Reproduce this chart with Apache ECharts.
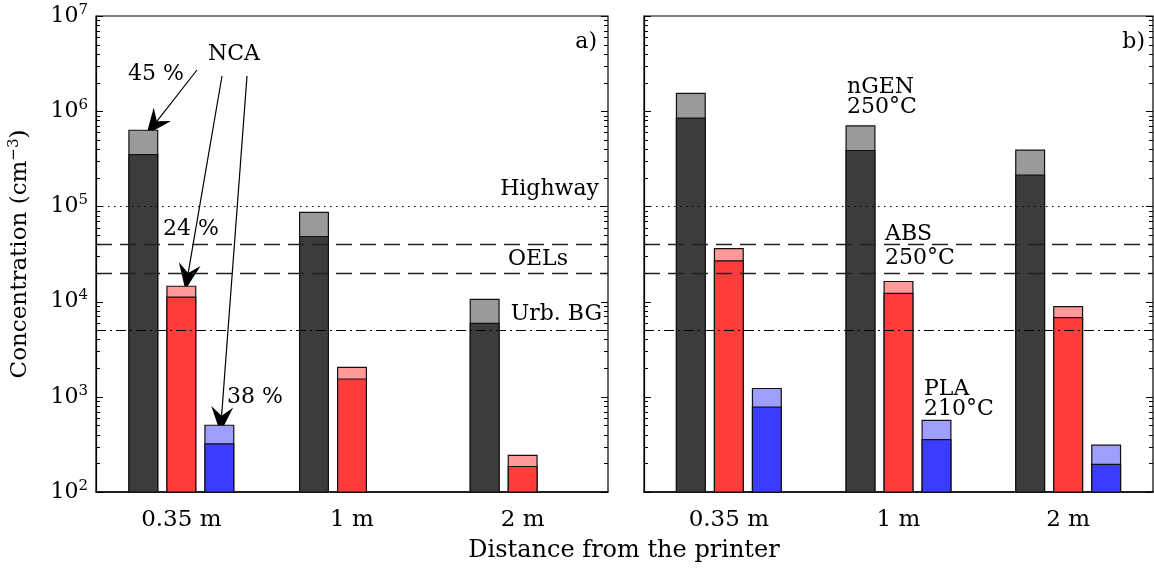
<!DOCTYPE html>
<html>
<head>
<meta charset="utf-8">
<script src="https://cdn.jsdelivr.net/npm/echarts@6/dist/echarts.min.js"></script>
<style>
  html, body { margin: 0; padding: 0; background: #fff; }
  #chart { width: 1154px; height: 571px; }
</style>
</head>
<body>
<div id="chart"></div>
<script>
// categories and decade ticks
var categories = ["0.35 m", "1 m", "2 m"];
var decades = [1e2, 1e3, 1e4, 1e5, 1e6, 1e7];

// panel a) totals (incl. NCA) and base part
var ngenTotalA = [6.4e5, 8.8e4, 1.07e4];
var ngenBaseA = [3.55e5, 4.9e4, 6.0e3];
var absTotalA = [1.47e4, 2.07e3, 246];
var absBaseA = [1.13e4, 1.56e3, 188];
var plaTotalA = [510, null, null];
var plaBaseA = [325, null, null];

// panel b)
var ngenTotalB = [1.56e6, 7.1e5, 3.95e5];
var ngenBaseB = [8.6e5, 3.92e5, 2.16e5];
var absTotalB = [3.65e4, 1.65e4, 9.0e3];
var absBaseB = [2.72e4, 1.24e4, 6.9e3];
var plaTotalB = [1.24e3, 575, 315];
var plaBaseB = [790, 360, 198];

// reference levels
var highway = 1e5;
var oels = [4e4, 2e4];
var urbanBG = 5e3;

var FONT = "DejaVu Serif";
var barW = 30;
var barGap = "26.7%";
var gridEdges = [[96, 608], [644, 1153]];

var minorTicks = [];
for (var d = 0; d < decades.length - 1; d++) {
  for (var k = 2; k <= 9; k++) minorTicks.push(decades[d] * k);
}

var colours = {
  ngen: ["#3c3c3c", "#9a9a9a"],
  abs: ["#ff3c3c", "#ff9a9a"],
  pla: ["#3c3cff", "#9e9eff"]
};

function logAx(grid, labels) {
  var ax = {
    type: "log",
    logBase: 10,
    min: 1e2,
    max: 1e7,
    gridIndex: grid,
    position: "left",
    splitLine: { show: false },
    axisLine: { show: true, lineStyle: { color: "#000", width: 1.2 } },
    axisTick: { show: false },
    axisLabel: { show: false }
  };
  if (labels) {
    ax.axisLabel = {
      show: true,
      margin: 8,
      fontFamily: FONT,
      color: "#000",
      formatter: function (v) {
        return "{b|10}{s|" + Math.round(Math.log10(v)) + "}";
      },
      rich: {
        b: { fontFamily: FONT, fontSize: 22, color: "#000" },
        s: { fontFamily: FONT, fontSize: 15, color: "#000", padding: [0, 0, 12, 0] }
      }
    };
    ax.name = "{t|Concentration (cm}{s|−3}{t|)}";
    ax.nameLocation = "middle";
    ax.nameRotate = 90;
    ax.nameGap = 62;
    ax.nameTextStyle = {
      rich: {
        t: { fontFamily: FONT, fontSize: 23, color: "#000" },
        s: { fontFamily: FONT, fontSize: 15, color: "#000", padding: [0, 0, 12, 0] }
      }
    };
  }
  return ax;
}

function xAx(grid, shown) {
  return {
    type: "category",
    data: categories,
    gridIndex: grid,
    show: shown,
    axisTick: { show: false },
    axisLine: { lineStyle: { color: "#000", width: 1.5 } },
    axisLabel: { fontFamily: FONT, fontSize: 23, color: "#000", margin: 17 }
  };
}

function bar(name, data, xi, yi, colour) {
  return {
    name: name,
    type: "bar",
    data: data,
    xAxisIndex: xi,
    yAxisIndex: yi,
    barWidth: barW,
    barGap: barGap,
    itemStyle: { color: colour, borderColor: "#111", borderWidth: 1.2 },
    silent: true,
    animation: false
  };
}

function refLines() {
  return {
    symbol: "none",
    silent: true,
    animation: false,
    label: { show: false },
    data: [
      { yAxis: highway, lineStyle: { type: [1.5, 4.5], color: "#000", width: 1.2 } },
      { yAxis: oels[0], lineStyle: { type: [16, 8], color: "#222", width: 1.3 } },
      { yAxis: oels[1], lineStyle: { type: [16, 8], color: "#222", width: 1.3 } },
      { yAxis: urbanBG, lineStyle: { type: [10, 4, 2, 4], color: "#000", width: 1.2 } }
    ]
  };
}

var series = [
  bar("nGEN total a", ngenTotalA, 0, 0, colours.ngen[1]),
  bar("ABS total a", absTotalA, 0, 0, colours.abs[1]),
  bar("PLA total a", plaTotalA, 0, 0, colours.pla[1]),
  bar("nGEN a", ngenBaseA, 1, 0, colours.ngen[0]),
  bar("ABS a", absBaseA, 1, 0, colours.abs[0]),
  bar("PLA a", plaBaseA, 1, 0, colours.pla[0]),
  bar("nGEN total b", ngenTotalB, 2, 1, colours.ngen[1]),
  bar("ABS total b", absTotalB, 2, 1, colours.abs[1]),
  bar("PLA total b", plaTotalB, 2, 1, colours.pla[1]),
  bar("nGEN b", ngenBaseB, 3, 1, colours.ngen[0]),
  bar("ABS b", absBaseB, 3, 1, colours.abs[0]),
  bar("PLA b", plaBaseB, 3, 1, colours.pla[0])
];
series[5].markLine = refLines();
series[11].markLine = refLines();

var myChart = echarts.init(document.getElementById("chart"), null, { renderer: "canvas" });

var option = {
  animation: false,
  grid: [
    { left: 96, right: 1154 - gridEdges[0][1], top: 16, bottom: 79, show: true, borderColor: "#000", borderWidth: 1.2, backgroundColor: "transparent" },
    { left: 644, right: 1154 - gridEdges[1][1], top: 16, bottom: 79, show: true, borderColor: "#000", borderWidth: 1.2, backgroundColor: "transparent" }
  ],
  xAxis: [xAx(0, true), xAx(0, false), xAx(1, true), xAx(1, false)],
  yAxis: [logAx(0, true), logAx(1, false)],
  series: series
};

myChart.setOption(option);

// pixel position of a value on panel p's log axis
function yPix(p, v) {
  var pt = myChart.convertToPixel({ xAxisIndex: p * 2, yAxisIndex: p }, [0, v]);
  return pt[1];
}

// inward ticks on both sides of each panel
function tickLines() {
  var out = [];
  var all = decades.map(function (v) { return [v, 7]; })
    .concat(minorTicks.map(function (v) { return [v, 4]; }));
  for (var p = 0; p < 2; p++) {
    for (var i = 0; i < all.length; i++) {
      var y = Math.round(yPix(p, all[i][0])) + 0.5;
      var xl = gridEdges[p][0], xr = gridEdges[p][1], L = all[i][1];
      out.push({ type: "line", silent: true, z: 100, shape: { x1: xl, y1: y, x2: xl + L, y2: y }, style: { stroke: "#000", lineWidth: 1 } });
      out.push({ type: "line", silent: true, z: 100, shape: { x1: xr, y1: y, x2: xr - L, y2: y }, style: { stroke: "#000", lineWidth: 1 } });
    }
  }
  return out;
}

// annotations
function px(panel, cat, val, slot) {
  var p = myChart.convertToPixel({ xAxisIndex: panel * 2, yAxisIndex: panel }, [cat, val]);
  return [p[0] + slot * 38, p[1]];
}

function arrow(from, tip) {
  var dx = tip[0] - from[0], dy = tip[1] - from[1];
  var len = Math.sqrt(dx * dx + dy * dy);
  var ux = dx / len, uy = dy / len;
  var nx = -uy, ny = ux;
  var L = 26, W = 11, notch = 9;
  var back = [tip[0] - L * ux, tip[1] - L * uy];
  var mid = [tip[0] - (L - notch) * ux, tip[1] - (L - notch) * uy];
  return [
    { type: "line", shape: { x1: from[0], y1: from[1], x2: mid[0], y2: mid[1] }, style: { stroke: "#000", lineWidth: 1.2 }, silent: true },
    { type: "polygon", shape: { points: [tip, [back[0] + W * nx, back[1] + W * ny], mid, [back[0] - W * nx, back[1] - W * ny]] }, style: { fill: "#000" }, silent: true }
  ];
}

function txt(x, y, s, align, size) {
  return {
    type: "text",
    x: x,
    y: y,
    silent: true,
    style: {
      text: s,
      fill: "#000",
      font: (size || 22) + "px '" + FONT + "'",
      align: align || "left",
      verticalAlign: "middle"
    }
  };
}

var gTip = px(0, 0, ngenTotalA[0], -1);
var rTip = px(0, 0, absTotalA[0], 0);
var bTip = px(0, 0, plaTotalA[0], 1);

var graphics = tickLines()
  .concat(arrow([197, 70], [gTip[0] + 3, gTip[1] + 5]))
  .concat(arrow([222, 76], [rTip[0] + 4, rTip[1] + 4]))
  .concat(arrow([247, 76], [bTip[0] + 1, bTip[1] + 8]))
  .concat([
    txt(234, 54, "NCA", "center"),
    txt(156, 74, "45 %", "center"),
    txt(191, 229, "24 %", "center"),
    txt(255, 397, "38 %", "center"),
    txt(597, 42, "a)", "right"),
    txt(1145, 42, "b)", "right"),
    txt(599, 189, "Highway", "right"),
    txt(568, 259, "OELs", "right"),
    txt(602, 314, "Urb. BG", "right"),
    txt(847, 87, "nGEN", "left"),
    txt(847, 107, "250°C", "left"),
    txt(885, 234, "ABS", "left"),
    txt(885, 258, "250°C", "left"),
    txt(924, 389, "PLA", "left"),
    txt(924, 409, "210°C", "left"),
    txt(624, 551, "Distance from the printer", "center", 24)
  ]);

myChart.setOption({ graphic: graphics });
</script>
</body>
</html>
